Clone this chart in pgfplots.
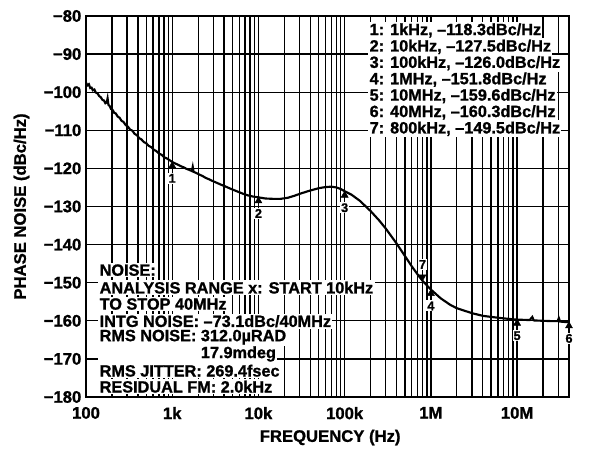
\documentclass[border=0pt]{standalone}
\usepackage{fontspec}
\setmainfont{Liberation Sans}[BoldFeatures={FakeBold=1.2}]
\usepackage{pgfplots}
\pgfplotsset{compat=1.18}

\pgfplotstableread{
x y
100 -97.5
104 -98.2
108 -97.9
112 -98.9
116 -98.8
120 -99.5
125 -99.3
130 -100.1
136 -100.3
142 -101.0
148 -101.3
155 -102.0
162 -102.2
168 -102.9
174 -102.7
178 -101.6
182 -103.3
188 -103.6
195 -104.4
203 -104.6
212 -105.4
222 -105.6
233 -106.4
245 -106.7
258 -107.5
272 -107.8
288 -108.6
305 -109.0
325 -109.8
345 -110.1
365 -110.9
390 -111.3
415 -112.1
440 -112.4
470 -113.1
500 -113.4
535 -114.1
570 -114.4
610 -115.1
650 -115.4
700 -116.1
750 -116.4
810 -117.1
870 -117.4
940 -117.9
1000 -118.3
1080 -118.7
1160 -119.0
1250 -119.4
1350 -119.7
1460 -120.1
1580 -120.4
1690 -120.7
1730 -119.6
1770 -120.9
1900 -121.2
2050 -121.6
2250 -122.0
2450 -122.5
2700 -122.9
3000 -123.4
3300 -123.8
3700 -124.3
4100 -124.7
4600 -125.2
5200 -125.7
5900 -126.2
6700 -126.7
7600 -127.1
8700 -127.4
10000 -127.6
12000 -127.9
15000 -128.0
18000 -128.0
22000 -127.7
26000 -127.2
30000 -126.7
35000 -126.2
40000 -125.8
50000 -125.2
60000 -124.9
70000 -124.8
80000 -125.0
90000 -125.4
100000 -126.0
120000 -126.9
150000 -128.5
200000 -131.2
250000 -133.6
300000 -135.8
400000 -139.7
500000 -143.0
600000 -145.7
700000 -147.8
800000 -149.5
1000000 -151.8
1300000 -154.1
1700000 -155.9
2000000 -156.7
3000000 -158.0
4000000 -158.7
6000000 -159.2
8000000 -159.5
10000000 -159.7
14000000 -159.8
15000000 -159.0
15600000 -159.9
20000000 -160.0
26000000 -160.1
29500000 -160.1
30500000 -159.3
31500000 -160.2
40000000 -160.4
}\noisedata

\pgfplotstableread{
x y lab
1000 -118.3 1
10000 -127.5 2
100000 -126.0 3
1000000 -151.8 4
10000000 -159.6 5
40000000 -160.3 6
}\markup

\pgfplotstableread{
x y lab
800000 -149.5 7
}\markdown

\tikzset{
  txt/.style={font=\bfseries\fontsize{12.2}{14}\selectfont, fill=white, inner sep=1pt, anchor=west},
}

\begin{document}
\begin{tikzpicture}
\begin{axis}[
    scale only axis,
    width=362.25pt, height=285.75pt,
    xmode=log,
    xmin=100, xmax=4e7,
    ymin=-180, ymax=-80,
    xtick={100,1000,10000,100000,1000000,10000000},
    xticklabels={100,1k,10k,100k,1M,10M},
    minor xtick={200,300,400,500,600,700,800,900,
                 2000,3000,4000,5000,6000,7000,8000,9000,
                 20000,30000,40000,50000,60000,70000,80000,90000,
                 200000,300000,400000,500000,600000,700000,800000,900000,
                 2000000,3000000,4000000,5000000,6000000,7000000,8000000,9000000,
                 20000000,30000000},
    ytick={-180,-170,-160,-150,-140,-130,-120,-110,-100,-90,-80},
    yticklabels={−180,−170,−160,−150,−140,−130,−120,−110,−100,−90,−80},
    ticklabel style={font=\bfseries\fontsize{12.5}{14}\selectfont},
    xticklabel style={yshift=-4pt},
    label style={font=\bfseries\fontsize{12.5}{14}\selectfont},
    xlabel={FREQUENCY (Hz)},
    ylabel={PHASE NOISE (dBc/Hz)},
    xlabel style={xshift=2pt, yshift=-1pt},
    ylabel style={yshift=4pt},
    xmajorgrids, xminorgrids, ymajorgrids,
    grid style={black, line width=1pt},
    minor grid style={black, line width=1pt},
    axis line style={line width=1.2pt},
    tick style={black, line width=0.6pt},
    major tick length=4pt, minor tick length=3pt,
    tick align=inside,
]
\addplot[black, line width=1.6pt] table {\noisedata};

\addplot[only marks, mark=triangle*, mark size=3pt,
    mark options={yshift=-3pt, black},
    point meta=explicit symbolic, nodes near coords,
    nodes near coords style={anchor=north, yshift=-5pt,
        font=\bfseries\fontsize{9.5}{10}\selectfont, fill=white, inner sep=0.8pt}]
    table[meta=lab] {\markup};

\addplot[only marks, mark=triangle*, mark size=3pt,
    mark options={yshift=3pt, rotate=180, black},
    point meta=explicit symbolic, nodes near coords,
    nodes near coords style={anchor=south, yshift=5pt,
        font=\bfseries\fontsize{9.5}{10}\selectfont, fill=white, inner sep=0.8pt}]
    table[meta=lab] {\markdown};

% marker table
\node[txt] at (rel axis cs:0.584,0.962) {1: 1kHz, –118.3dBc/Hz};
\node[txt] at (rel axis cs:0.584,0.919) {2: 10kHz, –127.5dBc/Hz};
\node[txt] at (rel axis cs:0.584,0.876) {3: 100kHz, –126.0dBc/Hz};
\node[txt] at (rel axis cs:0.584,0.833) {4: 1MHz, –151.8dBc/Hz};
\node[txt] at (rel axis cs:0.584,0.790) {5: 10MHz, –159.6dBc/Hz};
\node[txt] at (rel axis cs:0.584,0.747) {6: 40MHz, –160.3dBc/Hz};
\node[txt] at (rel axis cs:0.584,0.704) {7: 800kHz, –149.5dBc/Hz};

% noise summary
\node[txt] at (rel axis cs:0.025,0.333) {NOISE:};
\node[txt] at (rel axis cs:0.025,0.287) {ANALYSIS RANGE x: START 10kHz};
\node[txt] at (rel axis cs:0.025,0.244) {TO STOP 40MHz};
\node[txt] at (rel axis cs:0.025,0.199) {INTG NOISE: –73.1dBc/40MHz};
\node[txt] at (rel axis cs:0.025,0.157) {RMS NOISE: 312.0µRAD};
\node[txt] at (rel axis cs:0.025,0.113) {\phantom{RMS NOISE: }17.9mdeg};
\node[txt] at (rel axis cs:0.025,0.069) {RMS JITTER: 269.4fsec};
\node[txt] at (rel axis cs:0.025,0.027) {RESIDUAL FM: 2.0kHz};

\node[rotate=90, font=\fontsize{7}{8}\selectfont, text=black!70] at (rel axis cs:1.070,-0.066) {012};
\end{axis}
\path (current axis.south west) ++(-64.5pt,-33.75pt) coordinate (bl);
\path (current axis.north east) ++(33.75pt,12pt) coordinate (tr);
\path (bl) rectangle (tr);
\end{tikzpicture}
\end{document}
